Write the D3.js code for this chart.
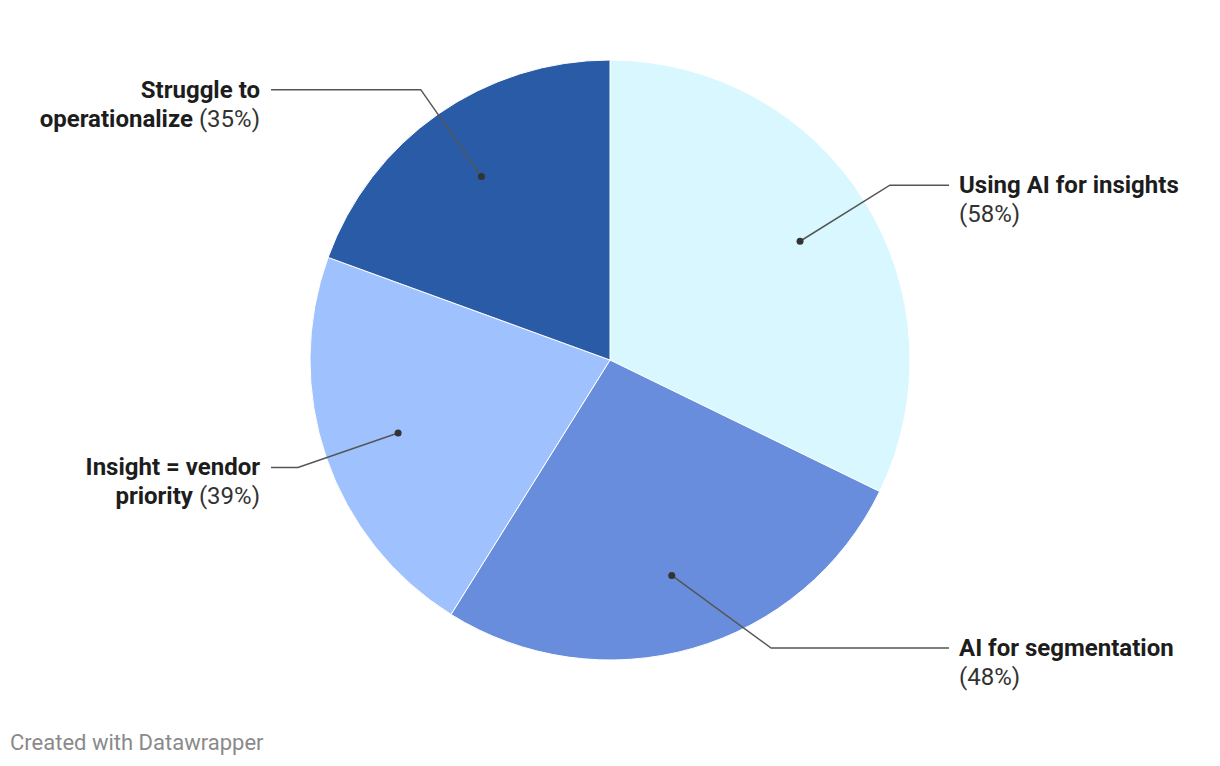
<!DOCTYPE html>
<html>
<head>
<meta charset="utf-8">
<script src="https://cdn.jsdelivr.net/npm/d3@7/dist/d3.min.js"></script>
<style>
html,body{margin:0;padding:0;background:#fff;}
svg{display:block;font-family:Roboto,"Noto Sans",sans-serif;}
</style>
</head>
<body>
<svg id="chart" width="1220" height="766"></svg>
<script>
const categories = ["Using AI for insights", "AI for segmentation", "Insight = vendor priority", "Struggle to operationalize"];
const values = [58, 48, 39, 35];
const colors = ["#d8f7fe", "#678ddc", "#9fc1fd", "#295ba6"];
// label lines: bold part lines, and whether the percentage follows the last bold line
const boldLines = [["Using AI for insights"], ["AI for segmentation"], ["Insight = vendor", "priority"], ["Struggle to", "operationalize"]];
const pctOnLastBold = [false, false, true, true];

const W = 1220, H = 766;
const cx = 610, cy = 360, R = 300;
const svg = d3.select("#chart");

const data = categories.map((c, i) => ({name: c, value: values[i], color: colors[i], i}));
const pie = d3.pie().value(d => d.value).sort(null);
const arcs = pie(data);
const arc = d3.arc().innerRadius(0).outerRadius(R);

const g = svg.append("g").attr("transform", `translate(${cx},${cy})`);
g.selectAll("path.slice").data(arcs).join("path")
  .attr("class", "slice")
  .attr("d", arc)
  .attr("fill", d => d.data.color)
  .attr("stroke", "#fff")
  .attr("stroke-width", 1);

const rDot = R * 0.747, rElbow = R * 1.1;
const yMax = 288, yMin = -290;
const lineEnd = R * 1.13;
const lh = 29;

arcs.forEach(a => {
  const ang = (a.startAngle + a.endAngle) / 2;
  const dx = Math.sin(ang), dy = -Math.cos(ang);
  const p0 = [rDot * dx, rDot * dy];
  let ey = rElbow * dy;
  ey = Math.max(yMin, Math.min(yMax, ey));
  const side = dx >= 0 ? 1 : -1;
  const ex = side * Math.sqrt(rElbow * rElbow - ey * ey);
  const p2 = [side * lineEnd, ey];
  const textX = side > 0 ? 349 : -350;
  g.append("path")
    .attr("d", d3.line()([p0, [ex, ey], p2]))
    .attr("fill", "none").attr("stroke", "#555").attr("stroke-width", 1.5);
  g.append("circle").attr("cx", p0[0]).attr("cy", p0[1]).attr("r", 3.5).attr("fill", "#333");

  const t = g.append("text")
    .attr("x", textX)
    .attr("y", ey)
    .attr("text-anchor", side > 0 ? "start" : "end")
    .attr("font-size", 24)
    .attr("fill", "#1d1d1d");
  const bl = boldLines[a.data.i];
  const pct = `(${a.data.value}%)`;
  bl.forEach((ln, k) => {
    t.append("tspan").attr("x", textX).attr("y", ey + k * lh).attr("dy", "0.33em")
      .attr("font-weight", 700).text(ln);
    if (k === bl.length - 1 && pctOnLastBold[a.data.i]) {
      t.append("tspan").attr("font-weight", 400).attr("fill", "#333").text(" " + pct);
    }
  });
  if (!pctOnLastBold[a.data.i]) {
    t.append("tspan").attr("x", textX).attr("y", ey + bl.length * lh).attr("dy", "0.33em")
      .attr("font-weight", 400).attr("fill", "#333").text(pct);
  }
});

svg.append("text").attr("x", 10).attr("y", 742).attr("dy", "0.35em")
  .attr("font-size", 22).attr("fill", "#8a8a8a").text("Created with Datawrapper");
</script>
</body>
</html>
